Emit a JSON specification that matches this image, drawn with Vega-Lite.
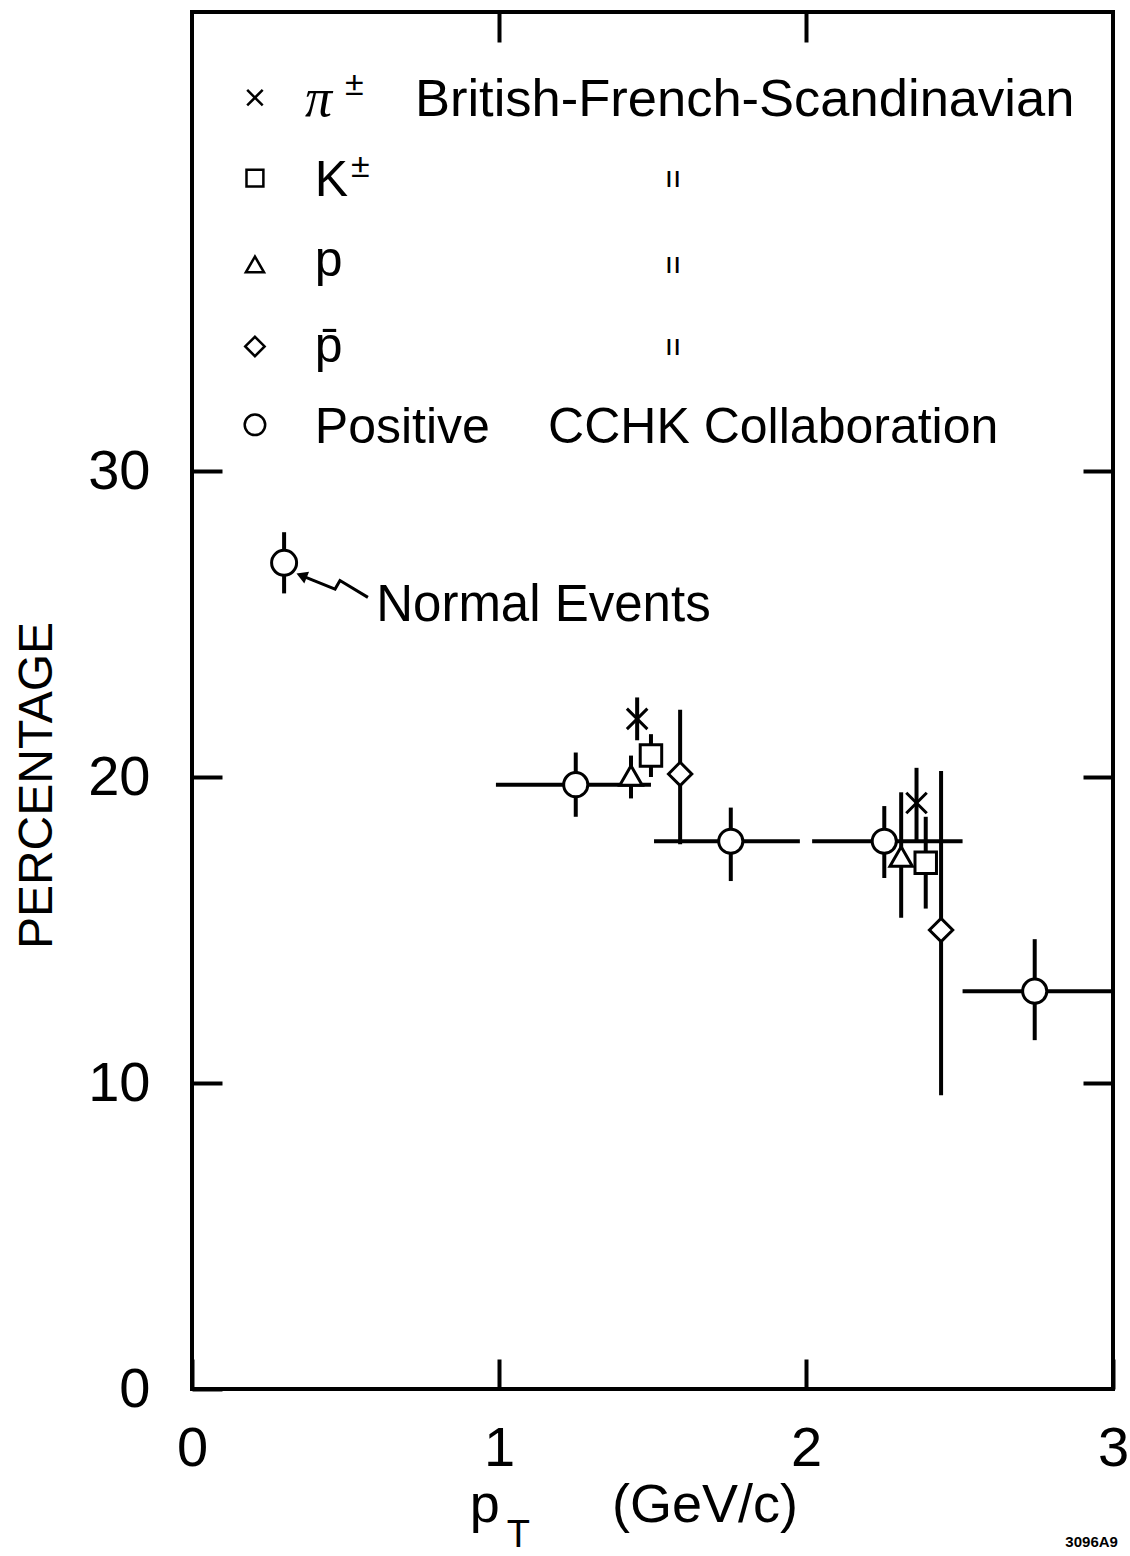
{
  "$schema": "https://vega.github.io/schema/vega-lite/v6.json",
  "width": 921,
  "height": 1377,
  "autosize": {"type": "none"},
  "padding": {"left": 192, "top": 12, "right": 17, "bottom": 167},
  "background": "white",
  "config": {
    "view": {"stroke": "black", "strokeWidth": 4},
    "font": "Liberation Sans",
    "axis": {
      "domain": false,
      "grid": false,
      "tickColor": "black",
      "tickWidth": 4,
      "tickSize": -30,
      "labelColor": "black",
      "labelFont": "Liberation Sans",
      "labelFontSize": 56,
      "labelFlush": false,
      "labelOverlap": false,
      "labelBound": false,
      "title": null
    }
  },
  "datasets": {
    "pts": [
      {"series": "normal", "pt": 0.30, "pct": 27.0, "lo": 26.0, "hi": 28.0},
      {"series": "pos", "pt": 1.25, "pct": 19.75, "lo": 18.7, "hi": 20.8, "ptlo": 0.99, "pthi": 1.495},
      {"series": "pos", "pt": 1.755, "pct": 17.9, "lo": 16.6, "hi": 19.0, "ptlo": 1.505, "pthi": 1.98},
      {"series": "pos", "pt": 2.255, "pct": 17.9, "lo": 16.7, "hi": 19.05, "ptlo": 2.02, "pthi": 2.51},
      {"series": "pos", "pt": 2.745, "pct": 13.0, "lo": 11.4, "hi": 14.7, "ptlo": 2.51, "pthi": 3.0},
      {"series": "pi", "pt": 1.45, "pct": 21.9, "lo": 21.2, "hi": 22.6},
      {"series": "pi", "pt": 2.36, "pct": 19.15, "lo": 17.9, "hi": 20.3},
      {"series": "K", "pt": 1.495, "pct": 20.7, "lo": 20.0, "hi": 21.4},
      {"series": "K", "pt": 2.39, "pct": 17.2, "lo": 15.7, "hi": 18.7},
      {"series": "p", "pt": 1.43, "pct": 20.05, "lo": 19.3, "hi": 20.7},
      {"series": "p", "pt": 2.31, "pct": 17.4, "lo": 15.4, "hi": 19.5},
      {"series": "pbar", "pt": 1.59, "pct": 20.1, "lo": 17.8, "hi": 22.2},
      {"series": "pbar", "pt": 2.44, "pct": 15.0, "lo": 9.6, "hi": 20.2}
    ],
    "legendSym": [
      {"series": "pi", "y": 42.2},
      {"series": "K", "y": 39.57},
      {"series": "p", "y": 36.75},
      {"series": "pbar", "y": 34.07},
      {"series": "pos", "y": 31.51}
    ],
    "legendText": [
      {"t": "K", "x": 0.40, "y": 38.98},
      {"t": "p", "x": 0.40, "y": 36.36},
      {"t": "p̄", "x": 0.40, "y": 33.57},
      {"t": "Positive", "x": 0.40, "y": 30.92},
      {"t": "CCHK Collaboration", "x": 1.16, "y": 30.92}
    ],
    "bfsText": [{"t": "British-French-Scandinavian", "x": 0.726, "y": 41.61}],
    "piText": [{"t": "π", "x": 0.368, "y": 41.61}],
    "supText": [
      {"t": "±", "x": 0.498, "y": 42.3},
      {"t": "±", "x": 0.518, "y": 39.6}
    ],
    "ditto": [
      {"t": "ıı", "x": 1.567, "y": 39.57},
      {"t": "ıı", "x": 1.567, "y": 36.75},
      {"t": "ıı", "x": 1.567, "y": 34.07}
    ],
    "arrow": [
      {"i": 1, "x": 0.357, "y": 26.58},
      {"i": 2, "x": 0.466, "y": 26.14},
      {"i": 3, "x": 0.482, "y": 26.42},
      {"i": 4, "x": 0.573, "y": 25.87}
    ],
    "arrowHead": [{"x": 0.357, "y": 26.58}],
    "note": [{"t": "Normal Events", "x": 0.6, "y": 25.6}],
    "xtitle": [
      {"t": "p", "x": 0.905, "y": -4.36},
      {"t": "(GeV/c)", "x": 1.368, "y": -4.36}
    ],
    "xsub": [{"t": "T", "x": 1.025, "y": -5.15}],
    "code": [{"t": "3096A9", "x": 3.016, "y": -5.15}]
  },
  "resolve": {
    "axis": {"x": "independent", "y": "independent"},
    "scale": {"size": "independent"}
  },
  "layer": [
    {
      "data": {"name": "pts"},
      "mark": {"type": "rule", "color": "black", "strokeWidth": 4},
      "encoding": {
        "x": {"field": "pt", "type": "quantitative", "scale": {"domain": [0, 3], "nice": false, "zero": false},
              "axis": {"orient": "bottom", "values": [0, 1, 2, 3], "format": "d", "labelPadding": 62}},
        "y": {"field": "lo", "type": "quantitative", "scale": {"domain": [0, 45], "nice": false, "zero": false},
              "axis": {"orient": "left", "values": [0, 10, 20, 30], "format": "d", "labelPadding": 72,
                       "title": "PERCENTAGE", "titleFont": "Liberation Sans", "titleFontSize": 48, "titleFontWeight": "normal",
                       "titleColor": "black", "titleX": -131, "titleY": 773, "titleAngle": -90, "titleBaseline": "bottom", "titleAlign": "center"}},
        "y2": {"field": "hi"}
      }
    },
    {
      "data": {"name": "pts"},
      "transform": [{"filter": "datum.series === 'pos'"}],
      "mark": {"type": "rule", "color": "black", "strokeWidth": 4},
      "encoding": {
        "x": {"field": "ptlo", "type": "quantitative", "scale": {"domain": [0, 3], "nice": false, "zero": false},
              "axis": {"orient": "top", "values": [1, 2], "labels": false}},
        "x2": {"field": "pthi"},
        "y": {"field": "pct", "type": "quantitative", "scale": {"domain": [0, 45], "nice": false, "zero": false},
              "axis": {"orient": "right", "values": [10, 20, 30], "labels": false}}
      }
    },
    {
      "data": {"name": "pts"},
      "mark": {"type": "point", "fill": "white", "stroke": "black", "strokeWidth": 3, "opacity": 1},
      "encoding": {
        "x": {"field": "pt", "type": "quantitative", "axis": null},
        "y": {"field": "pct", "type": "quantitative", "axis": null},
        "shape": {"field": "series", "type": "nominal", "legend": null,
                  "scale": {"domain": ["pi", "K", "p", "pbar", "pos", "normal"],
                            "range": ["M-1,-1L1,1M-1,1L1,-1", "square", "triangle-up", "diamond", "circle", "circle"]}},
        "size": {"field": "series", "type": "nominal", "legend": null,
                 "scale": {"domain": ["pi", "K", "p", "pbar", "pos", "normal"], "range": [420, 625, 560, 729, 400, 400]}}
      }
    },
    {
      "data": {"name": "legendSym"},
      "mark": {"type": "point", "fill": "white", "stroke": "black", "strokeWidth": 2.5, "opacity": 1},
      "encoding": {
        "x": {"datum": 0.205, "type": "quantitative", "axis": null},
        "y": {"field": "y", "type": "quantitative", "axis": null},
        "shape": {"field": "series", "type": "nominal", "legend": null},
        "size": {"field": "series", "type": "nominal", "legend": null,
                 "scale": {"domain": ["pi", "K", "p", "pbar", "pos"], "range": [240, 420, 330, 400, 200]}}
      }
    },
    {
      "data": {"name": "arrow"},
      "mark": {"type": "line", "color": "black", "strokeWidth": 3},
      "encoding": {
        "x": {"field": "x", "type": "quantitative", "axis": null},
        "y": {"field": "y", "type": "quantitative", "axis": null},
        "order": {"field": "i", "type": "quantitative"}
      }
    },
    {
      "data": {"name": "arrowHead"},
      "mark": {"type": "point", "shape": "triangle-left", "filled": true, "color": "black", "opacity": 1, "size": 160, "angle": 22},
      "encoding": {
        "x": {"field": "x", "type": "quantitative", "axis": null},
        "y": {"field": "y", "type": "quantitative", "axis": null}
      }
    },
    {
      "data": {"name": "legendText"},
      "mark": {"type": "text", "font": "Liberation Sans", "fontSize": 50, "align": "left", "baseline": "alphabetic", "color": "black"},
      "encoding": {
        "x": {"field": "x", "type": "quantitative", "axis": null},
        "y": {"field": "y", "type": "quantitative", "axis": null},
        "text": {"field": "t"}
      }
    },
    {
      "data": {"name": "bfsText"},
      "mark": {"type": "text", "font": "Liberation Sans", "fontSize": 52.5, "align": "left", "baseline": "alphabetic", "color": "black"},
      "encoding": {
        "x": {"field": "x", "type": "quantitative", "axis": null},
        "y": {"field": "y", "type": "quantitative", "axis": null},
        "text": {"field": "t"}
      }
    },
    {
      "data": {"name": "piText"},
      "mark": {"type": "text", "font": "Liberation Serif", "fontStyle": "italic", "fontSize": 54, "align": "left", "baseline": "alphabetic", "color": "black"},
      "encoding": {
        "x": {"field": "x", "type": "quantitative", "axis": null},
        "y": {"field": "y", "type": "quantitative", "axis": null},
        "text": {"field": "t"}
      }
    },
    {
      "data": {"name": "supText"},
      "mark": {"type": "text", "font": "Liberation Sans", "fontSize": 34, "align": "left", "baseline": "alphabetic", "color": "black"},
      "encoding": {
        "x": {"field": "x", "type": "quantitative", "axis": null},
        "y": {"field": "y", "type": "quantitative", "axis": null},
        "text": {"field": "t"}
      }
    },
    {
      "data": {"name": "ditto"},
      "mark": {"type": "text", "font": "Liberation Sans", "fontSize": 30, "align": "center", "baseline": "middle", "color": "black"},
      "encoding": {
        "x": {"field": "x", "type": "quantitative", "axis": null},
        "y": {"field": "y", "type": "quantitative", "axis": null},
        "text": {"field": "t"}
      }
    },
    {
      "data": {"name": "note"},
      "mark": {"type": "text", "font": "Liberation Sans", "fontSize": 51, "align": "left", "baseline": "middle", "color": "black"},
      "encoding": {
        "x": {"field": "x", "type": "quantitative", "axis": null},
        "y": {"field": "y", "type": "quantitative", "axis": null},
        "text": {"field": "t"}
      }
    },
    {
      "data": {"name": "xtitle"},
      "mark": {"type": "text", "font": "Liberation Sans", "fontSize": 54, "align": "left", "baseline": "alphabetic", "color": "black"},
      "encoding": {
        "x": {"field": "x", "type": "quantitative", "axis": null},
        "y": {"field": "y", "type": "quantitative", "axis": null},
        "text": {"field": "t"}
      }
    },
    {
      "data": {"name": "xsub"},
      "mark": {"type": "text", "font": "Liberation Sans", "fontSize": 38, "align": "left", "baseline": "alphabetic", "color": "black"},
      "encoding": {
        "x": {"field": "x", "type": "quantitative", "axis": null},
        "y": {"field": "y", "type": "quantitative", "axis": null},
        "text": {"field": "t"}
      }
    },
    {
      "data": {"name": "code"},
      "mark": {"type": "text", "font": "Liberation Sans", "fontSize": 15, "fontWeight": "bold", "align": "right", "baseline": "alphabetic", "color": "black"},
      "encoding": {
        "x": {"field": "x", "type": "quantitative", "axis": null},
        "y": {"field": "y", "type": "quantitative", "axis": null},
        "text": {"field": "t"}
      }
    }
  ]
}
